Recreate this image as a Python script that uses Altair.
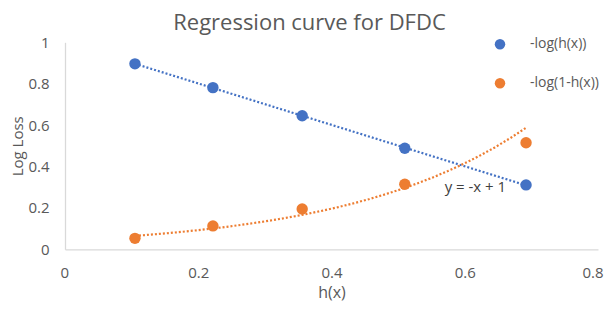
import altair as alt
import pandas as pd

# ---- data ----
h_x = [0.105, 0.222, 0.356, 0.510, 0.692]
neg_log_h = [0.896, 0.781, 0.645, 0.488, 0.311]
neg_log_1mh = [0.053, 0.113, 0.195, 0.314, 0.515]
series_names = ["-log(h(x))", "-log(1-h(x))"]
series_colors = ["#4472C4", "#ED7D31"]
x_ticks = [0, 0.2, 0.4, 0.6, 0.8]
y_ticks = [0, 0.2, 0.4, 0.6, 0.8, 1]
equation_label = "y = -x + 1"

rows = []
for xv, a, b in zip(h_x, neg_log_h, neg_log_1mh):
    rows.append({"x": xv, "y": a, "series": series_names[0]})
    rows.append({"x": xv, "y": b, "series": series_names[1]})
df = pd.DataFrame(rows)

FONT = "Open Sans"
GRAY = "#595959"

x_enc = alt.X("x:Q", scale=alt.Scale(domain=[0, 0.8], nice=False),
              axis=alt.Axis(values=x_ticks, format="~g", title="h(x)", grid=False, ticks=False,
                            domainColor="#D9D9D9", domainWidth=1.3,
                            labelFontSize=15, labelColor=GRAY, labelPadding=16,
                            titleFontSize=16, titleColor=GRAY, titleFontWeight="normal",
                            titlePadding=4, labelFont=FONT, titleFont=FONT,
                            labelFlush=True, labelFlushOffset=5))
y_enc = alt.Y("y:Q", scale=alt.Scale(domain=[0, 1], nice=False),
              axis=alt.Axis(values=y_ticks, format="~g", title="Log Loss", grid=False, ticks=False,
                            domainColor="#D9D9D9", domainWidth=1.3,
                            labelFontSize=15, labelColor=GRAY, labelPadding=16,
                            titleFontSize=15, titleColor=GRAY, titleFontWeight="normal",
                            titlePadding=2, labelFont=FONT, titleFont=FONT,
                            labelFlush=False))

base = alt.Chart(df)

blue_trend = base.transform_filter(
    alt.datum.series == series_names[0]
).transform_regression("x", "y", method="linear").mark_line(
    color=series_colors[0], strokeDash=[2, 2], strokeWidth=2.2
).encode(x=x_enc, y=y_enc)

orange_trend = base.transform_filter(
    alt.datum.series == series_names[1]
).transform_calculate(
    ly="log(datum.y)"
).transform_regression("x", "ly", method="poly", order=1).transform_calculate(
    y="exp(datum.ly)"
).mark_line(
    color=series_colors[1], strokeDash=[2, 2], strokeWidth=2.2
).encode(x=x_enc, y=y_enc)

points = base.mark_circle(size=130, opacity=1).encode(
    x=x_enc, y=y_enc,
    color=alt.Color("series:N",
                    scale=alt.Scale(domain=series_names, range=series_colors),
                    sort=series_names,
                    legend=alt.Legend(title=None, orient="none", legendX=428, legendY=-5,
                                      symbolType="circle", symbolSize=110,
                                      labelFontSize=14, labelColor=GRAY, labelFont=FONT,
                                      labelOffset=23, rowPadding=25, padding=0,
                                      labelLimit=200, symbolStrokeWidth=0)),
)

label = alt.Chart(pd.DataFrame({"t": [equation_label]})).mark_text(
    fontSize=15, color="#404040", font=FONT
).encode(x=alt.datum(0.616), y=alt.datum(0.300), text="t:N")

chart = alt.layer(blue_trend, orange_trend, points, label).properties(
    width=533, height=207,
    autosize=alt.AutoSizeParams(type="none"),
    padding={"left": 57, "top": 34.3, "right": 6, "bottom": 54},
    title=alt.TitleParams("Regression curve for DFDC", fontSize=22, color=GRAY,
                          font=FONT, fontWeight="normal", anchor="middle",
                          frame="group", dx=-22, offset=0),
).configure_view(stroke=None)

chart.save("out.html", embed_options={"renderer": "svg", "actions": False})
